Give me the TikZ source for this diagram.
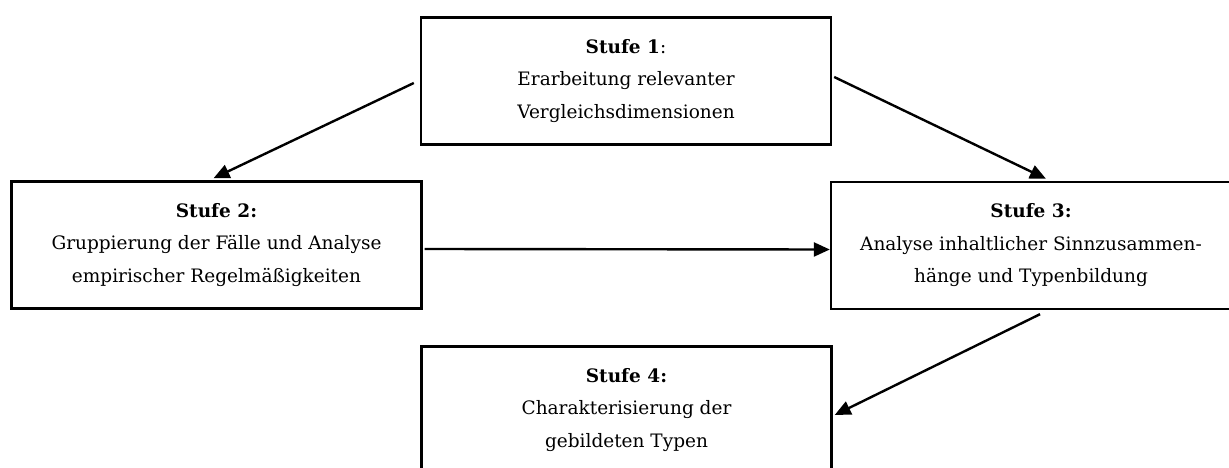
\documentclass[tikz,border=0pt]{standalone}
\usepackage{fontspec}
\setmainfont{DejaVu Serif}
\usetikzlibrary{arrows.meta,calc}
\tikzset{
  stepbox/.style={draw=black, line width=2.4pt, minimum width=410pt, minimum height=127pt,
    inner sep=0pt, align=center, font=\fontsize{18.5}{32.5}\selectfont},
  conn/.style={line width=2.4pt, -{Triangle[length=16pt,width=14pt]}}
}
\begin{document}
\begin{tikzpicture}[x=1pt,y=-1pt]
\useasboundingbox (0,0) rectangle (1229,468);
\clip (0,0) rectangle (1229,468);
\node[stepbox] (b1) at (626,81) {\textbf{Stufe 1}:\\Erarbeitung relevanter\\Vergleichsdimensionen};
\node[stepbox] (b2) at (216.5,245) {\textbf{Stufe 2:}\\Gruppierung der Fälle und Analyse\\empirischer Regelmäßigkeiten};
\node[stepbox, minimum width=400pt] (b3) at (1031,245.5) {\textbf{Stufe 3:}\\Analyse inhaltlicher Sinnzusammen-\\hänge und Typenbildung};
\node[stepbox] (b4) at (626.5,410) {\textbf{Stufe 4:}\\Charakterisierung der\\gebildeten Typen};
\draw[conn] ([shift={(-6,2)}]b1.west) -- ([shift={(-3,-2)}]b2.north);
\draw[conn] ([shift={(2,-4)}]b1.east) -- ([shift={(15,-2)}]b3.north);
\draw[conn] ([shift={(2,4)}]b2.east) -- ([shift={(0,4)}]b3.west);
\draw[conn] ([shift={(9,4)}]b3.south) -- ([shift={(2,5)}]b4.east);
\end{tikzpicture}
\end{document}
